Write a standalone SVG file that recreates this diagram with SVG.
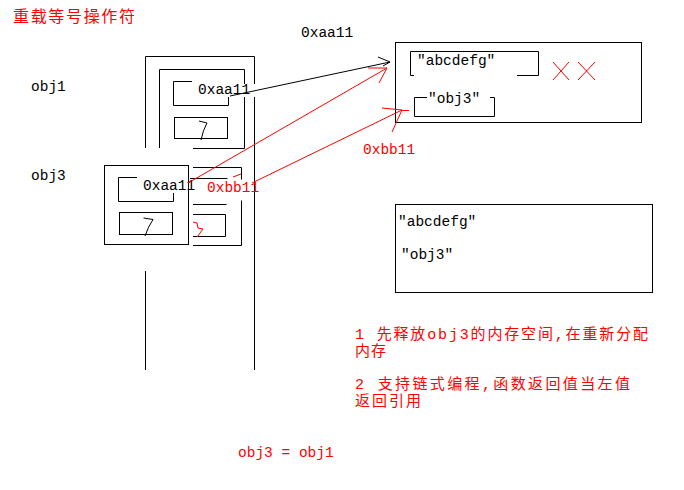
<svg xmlns="http://www.w3.org/2000/svg" width="684" height="490" viewBox="0 0 684 490">
<style>
.k{stroke:#000;stroke-width:1;fill:none}
.r{stroke:#f00;stroke-width:1;fill:none}
.bg{fill:#fff;stroke:none}
.m{font-family:"Liberation Mono","DejaVu Sans Mono",monospace;font-size:14.5px;fill:#000}
.mr{font-family:"Liberation Mono","DejaVu Sans Mono",monospace;font-size:14.5px;fill:#f00}
.c{font-family:"Liberation Mono","Noto Sans CJK SC",monospace;font-size:15px;fill:#f00}
</style>
<rect width="684" height="490" fill="#fff"/>
<g id="title"><text x="13" y="22" font-family="Noto Sans CJK SC, sans-serif" font-size="16" fill="#f00" textLength="122" lengthAdjust="spacing">重载等号操作符</text></g>
<g id="label-obj1"><text class="m" x="31" y="91">obj1</text></g>
<g id="label-obj3"><text class="m" x="31" y="180">obj3</text></g>
<g id="addr-top"><text class="m" x="301" y="37">0xaa11</text></g>

<g id="obj1">
<path class="k" d="M145.5,148 V56.5 H254.5 V370"/>
<path class="k" d="M145.5,271 V370"/>
<path class="k" d="M159.5,148 V69.5 H244.5 V148.5 H193"/>
<path class="k" d="M192,81.5 H173.5 V105.5 H228.5 V97"/>
<rect class="k" x="174.5" y="117.5" width="53" height="21"/>
<path class="k" d="M199,121 L207,123 Q203,130 201,140"/>
<rect class="bg" x="192" y="84" width="66" height="13"/>
<text class="m" x="198" y="94">0xaa11</text>
</g>

<g id="obj3-copy">
<path class="k" d="M193,167.5 H241.5 V245.5 H193"/>
<path class="k" d="M190,178.5 H227.5"/>
<path class="k" d="M193,204.5 H226.5"/>
<path class="k" d="M193,214.5 H225.5 V236.5 H193"/>
<path class="r" d="M193,222 L197,223 L198,228 L203,229 L197,237"/>
<rect class="bg" x="205" y="179.5" width="45" height="21"/>
<text class="mr" x="207" y="191.5">0xbb11</text>
</g>

<g id="obj3">
<rect class="bg" x="104.5" y="165.5" width="84" height="79"/>
<rect class="k" x="104.5" y="165.5" width="84" height="79"/>
<path class="k" d="M137,177.5 H118.5 V201.5 H173.5 V193"/>
<rect class="k" x="119.5" y="212.5" width="53" height="22"/>
<path class="k" d="M143.5,218 L153,219.5 Q148,227 145,236"/>
<rect class="bg" x="137" y="178" width="49" height="14.5"/>
<text class="m" x="143" y="190">0xaa11</text>
</g>

<g id="heap-1">
<rect class="k" x="395.5" y="42.5" width="246" height="80"/>
<path class="k" d="M414,75.5 H410.5 V51.5 H538.5 V75.5 H517"/>
<text class="m" x="417" y="65">"abcdefg"</text>
<path class="k" d="M427,97.5 H414.5 V116.5 H494.5 V97.5 H490"/>
<text class="m" x="428" y="103">"obj3"</text>
<path class="r" d="M553,62 L569,80 M569,62 L553,80 M578,62 L595,80 M595,62 L578,80"/>
<text class="mr" x="363" y="154">0xbb11</text>
</g>

<g id="heap-2">
<rect class="k" x="395.5" y="204.5" width="257" height="88"/>
<text class="m" x="398" y="226">"abcdefg"</text>
<text class="m" x="401" y="259">"obj3"</text>
</g>

<g id="notes">
<text class="c" x="355" y="339" textLength="293" lengthAdjust="spacing">1 先释放obj3的内存空间,在重新分配</text>
<text class="c" x="355" y="356" textLength="31" lengthAdjust="spacing">内存</text>
<text class="c" x="355" y="389" textLength="275" lengthAdjust="spacing">2 支持链式编程,函数返回值当左值</text>
<text class="c" x="355" y="406" textLength="66" lengthAdjust="spacing">返回引用</text>
<text class="mr" x="238" y="457">obj3 = obj1</text>
</g>

<g id="connectors">
<path class="k" d="M230,96 L390,62 M378,57 L390,62 M383,66 L390,62"/>
<path class="r" d="M188,183 L387,68 M368,68 L387,68 M379,83 L387,68"/>
<path class="r" d="M252,183 L402,110 M382,108 L402,110 M392,132 L402,110 M402,110.5 L409,110.5"/>
<path class="r" d="M233,177 L241,174"/>
</g>
</svg>
